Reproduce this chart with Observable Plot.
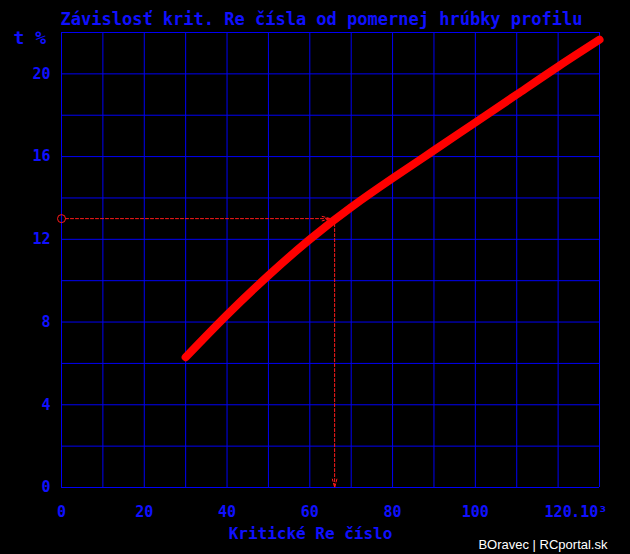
<!DOCTYPE html>
<html>
<head>
<meta charset="utf-8">
<script src="https://cdn.jsdelivr.net/npm/d3@7"></script>
<script src="https://cdn.jsdelivr.net/npm/@observablehq/plot@0.6"></script>
<style>
  html, body { margin: 0; padding: 0; background: #000; }
  #chart { width: 630px; height: 554px; }
</style>
</head>
<body>
<div id="chart"></div>
<script>
// ---- data ----
const reX  = [30, 40, 50, 60, 70, 80, 90, 100, 110, 120, 130];          // Kritické Re číslo (×10³)
const tPct = [6.3, 8.35, 10.25, 12.0, 13.55, 14.95, 16.3, 17.65, 19.0, 20.35, 21.65]; // t %
const xTicks = [0, 20, 40, 60, 80, 100, 120];
const yTicks = [0, 4, 8, 12, 16, 20];
const xGrid = [0, 10, 20, 30, 40, 50, 60, 70, 80, 90, 100, 110, 120, 130];
const yGrid = [0, 2, 4, 6, 8, 10, 12, 14, 16, 18, 20, 22];
const markRe = 66;   // example reading
const markT = 13;
const titleText = "Závislosť krit. Re čísla od pomernej hrúbky profilu";
const yLabelText = "t %";
const xLabelText = "Kritické Re číslo";
const xUnitText = ".10³";
const creditText = "BOravec | RCportal.sk";

const blue = "#1010ff";
const gridBlue = "#0000f5";
const mono = "DejaVu Sans Mono";

const data = reX.map((x, i) => ({x, y: tPct[i]}));

const chart = Plot.plot({
  width: 630,
  height: 554,
  marginLeft: 61,
  marginRight: 31,
  marginTop: 32,
  marginBottom: 67,
  x: {domain: [0, 130]},
  y: {domain: [0, 22]},
  style: {background: "#000", color: blue, fontFamily: mono, fontWeight: "bold", fontSize: "15px"},
  marks: [
    Plot.ruleX(xGrid, {x: d => d, stroke: gridBlue, strokeWidth: 1}),
    Plot.ruleY(yGrid, {y: d => d, stroke: gridBlue, strokeWidth: 1}),
    Plot.axisX({ticks: xTicks, tickSize: 0, tickPadding: 19, label: null, fill: blue, fontSize: 15}),
    Plot.axisY({ticks: yTicks, tickSize: 0, tickPadding: 11, label: null, fill: blue, fontSize: 15}),
    Plot.text([xUnitText], {x: () => 120, text: d => d, frameAnchor: "bottom", lineAnchor: "top", dy: 19, dx: 13, textAnchor: "start", fill: blue, fontSize: 15}),
    // annotation
    Plot.arrow([{x1: 0, y1: markT, x2: markRe - 1, y2: markT}], {
      x1: "x1", y1: "y1", x2: "x2", y2: "y2", stroke: "#ff1a1a", strokeWidth: 1,
      strokeDasharray: "3,2", headLength: 13, headAngle: 30, insetStart: 4
    }),
    Plot.arrow([{x1: markRe, y1: markT, x2: markRe, y2: 0}], {
      x1: "x1", y1: "y1", x2: "x2", y2: "y2", stroke: "#ff1a1a", strokeWidth: 1,
      strokeDasharray: "3,2", headLength: 13, headAngle: 30
    }),
    Plot.dot([{x: 0, y: markT}], {x: "x", y: "y", r: 4, stroke: "#ff1a1a", fill: "none", strokeWidth: 1}),
    // curve
    Plot.line(data, {x: "x", y: "y", stroke: "#ff0000", strokeWidth: 8, curve: "natural", strokeLinecap: "round", strokeLinejoin: "round"}),
    // texts
    Plot.text([titleText], {text: d => d, frameAnchor: "top-left", textAnchor: "start", lineAnchor: "bottom", dy: -8, dx: -1, fill: blue, fontSize: 17}),
    Plot.text([yLabelText], {text: d => d, frameAnchor: "top-left", textAnchor: "start", lineAnchor: "middle", dy: 6, dx: -48, fill: blue, fontSize: 18}),
    Plot.text([xLabelText], {text: d => d, frameAnchor: "bottom", textAnchor: "middle", lineAnchor: "middle", dy: 46, dx: -20, fill: blue, fontSize: 16}),
    Plot.text([creditText], {text: d => d, frameAnchor: "bottom-right", textAnchor: "end", lineAnchor: "middle", dy: 57, dx: 8, fill: "#ffffff", fontSize: 13, fontWeight: "normal", fontFamily: "Liberation Sans, Arial, sans-serif"})
  ]
});
document.getElementById("chart").appendChild(chart);
</script>
</body>
</html>
